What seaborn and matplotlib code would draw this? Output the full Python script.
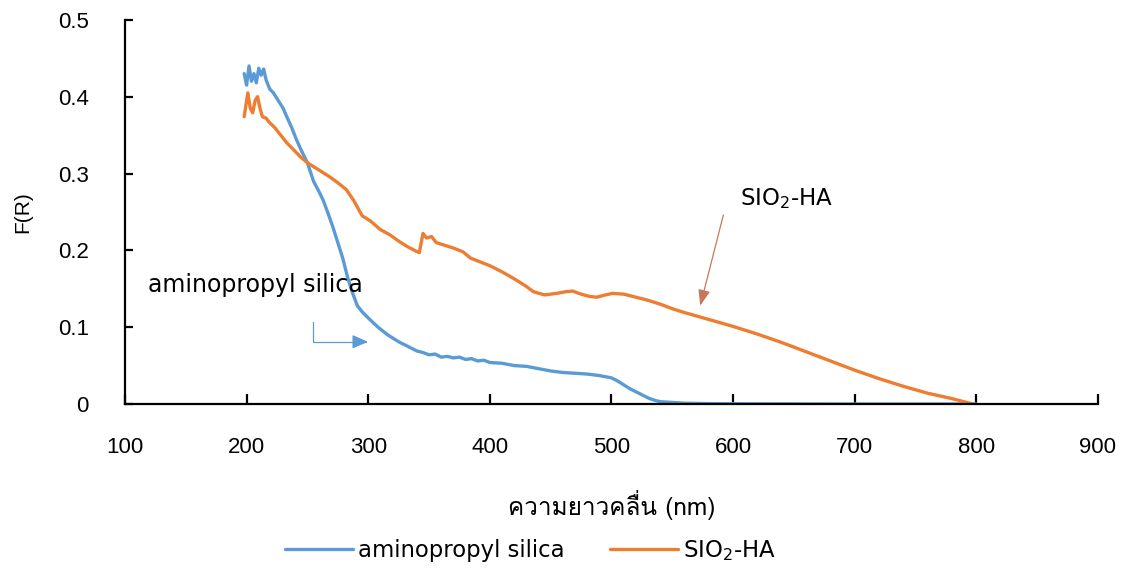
import matplotlib
matplotlib.use("Agg")
import matplotlib.pyplot as plt
from matplotlib import font_manager, ft2font
from matplotlib.lines import Line2D
import seaborn as sns
import pandas as pd

# ---------------- data ----------------
amino_x = [198, 200, 202, 204, 206, 208, 210, 212, 214, 216, 219, 222, 226, 230, 233,
           237, 241, 245, 250, 255, 260, 263, 267, 271, 275, 279, 283, 287, 291, 295,
           300, 304, 308, 312, 316, 320, 325, 330, 335, 340, 345, 350, 355, 360, 365,
           370, 375, 380, 385, 390, 395, 400, 410, 420, 430, 440, 450, 460, 470, 480,
           490, 500, 505, 510, 515, 520, 525, 530, 535, 540, 550, 560, 580, 600, 700, 800]
amino_y = [0.430, 0.415, 0.440, 0.420, 0.430, 0.418, 0.437, 0.428, 0.436, 0.422, 0.410,
           0.405, 0.395, 0.385, 0.374, 0.360, 0.344, 0.330, 0.314, 0.290, 0.275, 0.265,
           0.248, 0.230, 0.210, 0.190, 0.165, 0.145, 0.128, 0.120, 0.112, 0.106, 0.100,
           0.095, 0.090, 0.086, 0.081, 0.077, 0.073, 0.069, 0.067, 0.064, 0.065, 0.061,
           0.062, 0.060, 0.061, 0.058, 0.059, 0.056, 0.057, 0.054, 0.053, 0.050, 0.049,
           0.046, 0.043, 0.041, 0.040, 0.039, 0.037, 0.034, 0.030, 0.025, 0.020, 0.016,
           0.012, 0.008, 0.005, 0.003, 0.002, 0.001, 0.0005, 0.0003, 0.0, 0.0]

sio2_x = [198, 201, 203, 205, 207, 209, 211, 213, 216, 219, 223, 228, 233, 238, 244,
          250, 256, 262, 268, 275, 282, 288, 295, 302, 310, 318, 325, 332, 338, 342,
          345, 348, 352, 356, 362, 370, 378, 384, 392, 400, 410, 420, 430, 436, 445,
          455, 462, 468, 475, 482, 488, 495, 501, 510, 520, 530, 540, 550, 560, 580,
          600, 620, 640, 660, 680, 700, 720, 740, 760, 780, 797]
sio2_y = [0.374, 0.405, 0.385, 0.379, 0.395, 0.400, 0.385, 0.374, 0.372, 0.366, 0.360,
          0.350, 0.340, 0.332, 0.322, 0.314, 0.308, 0.302, 0.296, 0.288, 0.279, 0.265,
          0.245, 0.238, 0.227, 0.220, 0.212, 0.205, 0.200, 0.197, 0.222, 0.216, 0.218,
          0.210, 0.207, 0.203, 0.198, 0.190, 0.185, 0.180, 0.172, 0.163, 0.153, 0.146,
          0.142, 0.144, 0.146, 0.147, 0.143, 0.140, 0.139, 0.142, 0.144, 0.143, 0.139,
          0.135, 0.130, 0.124, 0.119, 0.110, 0.101, 0.091, 0.080, 0.068, 0.056, 0.044,
          0.033, 0.023, 0.014, 0.007, 0.0]

series_names = ["aminopropyl silica", "SIO$_2$-HA"]
colors = ["#5B9BD5", "#ED7D31"]
x_ticks = [100, 200, 300, 400, 500, 600, 700, 800, 900]
y_ticks = [0, 0.1, 0.2, 0.3, 0.4, 0.5]
y_ticklabels = ["0", "0.1", "0.2", "0.3", "0.4", "0.5"]
x_label = "ความยาวคลื่น (nm)"
y_label = "F(R)"

# ---------------- find a Thai-capable font ----------------
thai_font = None
for f in font_manager.fontManager.ttflist:
    try:
        cm = ft2font.FT2Font(f.fname).get_charmap()
    except Exception:
        continue
    if 0x0E04 in cm and 0x0E25 in cm:
        thai_font = f.name
        break
thai_family = [thai_font, "DejaVu Sans"] if thai_font else ["DejaVu Sans"]

# ---------------- plot ----------------
sns.set_theme(style="white")
plt.rcParams["font.family"] = ["DejaVu Sans"]
plt.rcParams["text.color"] = "black"

df = pd.concat([
    pd.DataFrame({"x": amino_x, "y": amino_y, "s": series_names[0]}),
    pd.DataFrame({"x": sio2_x, "y": sio2_y, "s": series_names[1]}),
])

fig = plt.figure(figsize=(11.23, 5.69), dpi=100)
ax = fig.add_axes([0.1113, 0.29, 0.8664, 0.6751])

sns.lineplot(data=df, x="x", y="y", hue="s", palette=colors, linewidth=2.4,
             ax=ax, legend=False, sort=False)

ax.set_xlim(100, 900)
ax.set_ylim(0, 0.5)
ax.set_xticks(x_ticks)
ax.set_yticks(y_ticks)
ax.set_yticklabels(y_ticklabels)
for s in ["top", "right"]:
    ax.spines[s].set_visible(False)
for s in ["left", "bottom"]:
    ax.spines[s].set_color("black")
    ax.spines[s].set_linewidth(1.6)
ax.tick_params(axis="x", direction="in", length=7, width=1.6, color="black",
               labelsize=16, pad=24, labelcolor="black", bottom=True)
ax.tick_params(axis="y", direction="in", length=6, width=1.6, color="black",
               labelsize=16, pad=26, labelcolor="black", left=True)
for lab in ax.get_xticklabels() + ax.get_yticklabels():
    lab.set_family(["Liberation Sans", "DejaVu Sans"])

ax.set_xlabel(x_label, fontsize=17.5, family=thai_family, color="black")
ax.set_ylabel(y_label, fontsize=15, color="black", family=["Liberation Sans", "DejaVu Sans"])
ax.xaxis.set_label_coords(0.5, -0.225)
ax.yaxis.set_label_coords(-0.095, 0.50)

# annotations
ax.text(119, 0.155, series_names[0], fontsize=17, va="center", ha="left", color="black")
ax.annotate("", xy=(299.8, 0.081), xytext=(254.6, 0.107),
            arrowprops=dict(arrowstyle="-|>,head_length=0.8,head_width=0.35",
                            connectionstyle="angle,angleA=-90,angleB=180,rad=0",
                            color=colors[0], lw=0.9, shrinkA=0, shrinkB=0))
ax.text(606, 0.268, series_names[1], fontsize=16.5, va="center", ha="left", color="black")
ax.annotate("", xy=(573, 0.128), xytext=(592, 0.246),
            arrowprops=dict(arrowstyle="-|>,head_length=0.8,head_width=0.3",
                            color="#C8785A", lw=0.9, shrinkA=0, shrinkB=0))

# legend
handles = [Line2D([], [], color=c, lw=2.4) for c in colors]
fig.legend(handles, series_names, loc="center", bbox_to_anchor=(0.472, 0.033),
           ncol=2, frameon=False, handlelength=3.0, handletextpad=0.2,
           columnspacing=2.0, labelcolor="black",
           prop={"family": "DejaVu Sans", "size": 16.4})

fig.savefig("out.png", dpi=100, facecolor="white")
